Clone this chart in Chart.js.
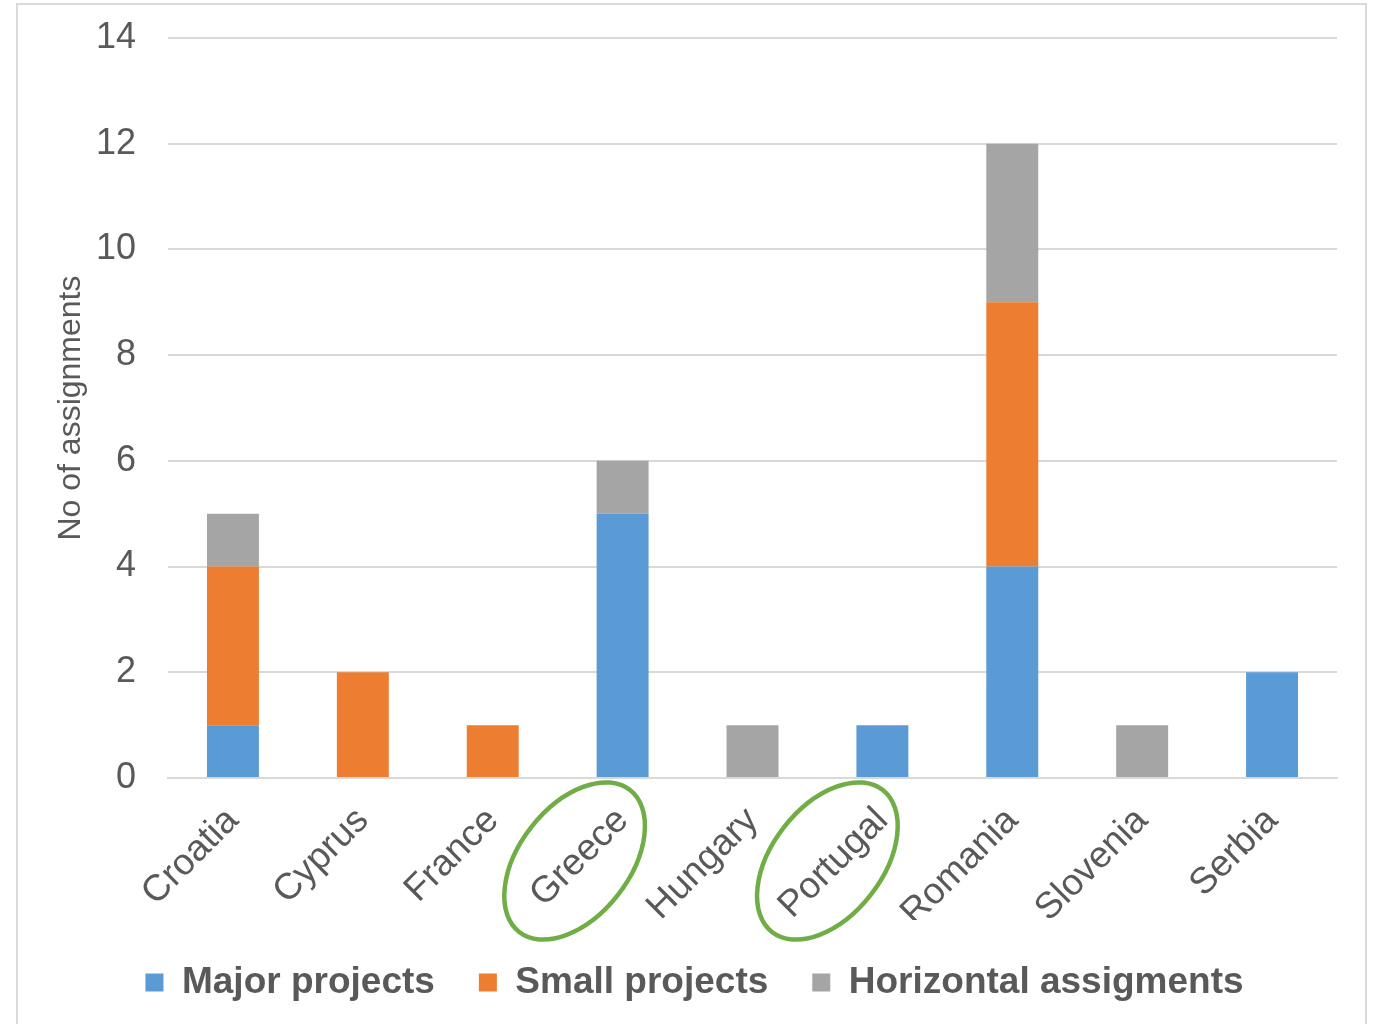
<!DOCTYPE html>
<html>
<head>
<meta charset="utf-8">
<script src="https://cdn.jsdelivr.net/npm/chart.js@4/dist/chart.umd.min.js"></script>
<style>
  html, body { margin: 0; padding: 0; background: #ffffff; }
  #wrap { position: relative; width: 1373px; height: 1024px; overflow: hidden; }
  #frame { position: absolute; left: 16px; top: 3px; width: 1351px; height: 1040px; border: 2px solid #d9d9d9; box-sizing: border-box; }
  canvas { position: absolute; left: 0; top: 0; }
</style>
</head>
<body>
<div id="wrap">
  <div id="frame"></div>
  <canvas id="c" width="1373" height="1024"></canvas>
</div>
<script>
const categories = ["Croatia", "Cyprus", "France", "Greece", "Hungary", "Portugal", "Romania", "Slovenia", "Serbia"];
const majorProjects = [1, 0, 0, 5, 0, 1, 4, 0, 2];
const smallProjects = [3, 2, 1, 0, 0, 0, 5, 0, 0];
const horizontalAssignments = [1, 0, 0, 1, 1, 0, 3, 1, 0];
const highlighted = ["Greece", "Portugal"];
const yTicks = [0, 2, 4, 6, 8, 10, 12, 14];

const textColor = "#595959";
const fontFamily = "'Liberation Sans', Arial, sans-serif";
const ellipseShift = { Greece: -48, Portugal: -55 };

const ellipsePlugin = {
  id: "ellipses",
  afterDraw(chart) {
    const x = chart.scales.x;
    const ctx = chart.ctx;
    ctx.save();
    ctx.strokeStyle = "#70AD47";
    ctx.lineWidth = 4.5;
    highlighted.forEach(name => {
      const i = categories.indexOf(name);
      const cx = x.getPixelForTick(i) + ellipseShift[name];
      const cy = chart.chartArea.bottom + 83;
      ctx.beginPath();
      ctx.ellipse(cx, cy, 90, 55, -52 * Math.PI / 180, 0, Math.PI * 2);
      ctx.stroke();
    });
    ctx.restore();
  }
};

new Chart(document.getElementById("c"), {
  type: "bar",
  data: {
    labels: categories,
    datasets: [
      { label: "Major projects", data: majorProjects, backgroundColor: "#5B9BD5" },
      { label: "Small projects", data: smallProjects, backgroundColor: "#ED7D31" },
      { label: "Horizontal assigments", data: horizontalAssignments, backgroundColor: "#A5A5A5" }
    ]
  },
  options: {
    responsive: false,
    animation: false,
    devicePixelRatio: 1,
    layout: { padding: { left: 52, right: 36, top: 38, bottom: 13 } },
    datasets: { bar: { barPercentage: 0.4, categoryPercentage: 1.0 } },
    plugins: {
      legend: {
        position: "bottom",
        labels: {
          color: textColor,
          font: { family: fontFamily, size: 37, weight: "bold" },
          boxWidth: 18,
          boxHeight: 18,
          padding: 44,
          useBorderRadius: false
        }
      },
      tooltip: { enabled: false }
    },
    scales: {
      x: {
        stacked: true,
        grid: { display: false, drawTicks: false },
        border: { display: true, color: "#d9d9d9", width: 2 },
        ticks: {
          color: textColor,
          font: { family: fontFamily, size: 37 },
          minRotation: 45,
          maxRotation: 45,
          padding: 21
        },
        afterFit(scale) { scale.height = 142; }
      },
      y: {
        stacked: true,
        min: 0,
        max: 14,
        afterBuildTicks(scale) { scale.ticks = yTicks.map(v => ({ value: v })); },
        grid: { color: "#d9d9d9", lineWidth: 2, drawTicks: false },
        border: { display: false },
        ticks: {
          color: textColor,
          font: { family: fontFamily, size: 36 },
          padding: 32
        },
        title: {
          display: true,
          text: "No of assignments",
          color: textColor,
          font: { family: fontFamily, size: 32 },
          padding: { top: 0, bottom: 0 }
        },
        afterFit(scale) { scale.width = 116; scale.paddingTop = 0; scale.paddingBottom = 0; }
      }
    }
  },
  plugins: [ellipsePlugin]
});
</script>
</body>
</html>
